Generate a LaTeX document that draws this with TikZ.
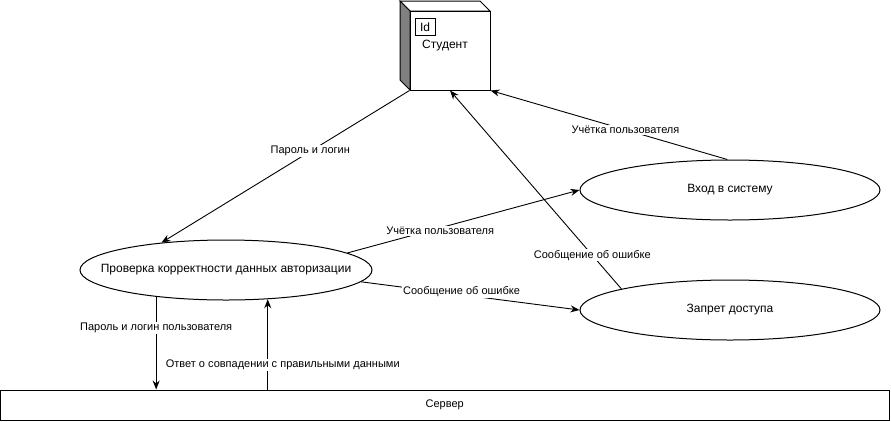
\documentclass[tikz,border=0pt]{standalone}
\usepackage{fontspec}
\setmainfont{Liberation Sans}
\usetikzlibrary{shapes.geometric,arrows.meta}
\begin{document}
\begin{tikzpicture}[x=1pt,y=-1pt,
  proc/.style={ellipse,draw,line width=1pt,minimum height=60pt,inner sep=0pt},
  flow/.style={line width=0.9pt,-{Stealth[length=9pt,width=7pt]}},
  lbl/.style={fill=white,inner sep=1pt,font=\fontsize{11}{13}\selectfont},
  boxtext/.style={font=\fontsize{12}{14}\selectfont}
]
\useasboundingbox (0,0) rectangle (891,421);

% actor cube: top face, shaded left side, front face
\draw[line width=1pt, fill=white] (400,1) -- (480,1) -- (490,11) -- (410,11) -- cycle;
\draw[line width=1pt, fill=gray] (400,1) -- (410,11) -- (410,90) -- (400,80) -- cycle;
\node[draw, line width=1pt, fill=white, minimum width=80pt, minimum height=79pt, inner sep=0pt] (st) at (450,50.5) {};
\node[draw, line width=1pt, minimum width=20pt, minimum height=17pt, inner sep=0pt, boxtext] (id) at (425,27) {Id};
\node[boxtext] (stl) at (445,46) {Студент};

% processes (text set as centred labels so the ellipse keeps its size)
\node[proc, minimum width=292pt, label={[boxtext]center:Проверка корректности данных авторизации}] (e1) at (226,270) {};
\node[proc, minimum width=300pt, label={[boxtext]center:Вход в систему}] (e2) at (730,190) {};
\node[proc, minimum width=300pt, label={[boxtext]center:Запрет доступа}] (e3) at (730,310) {};

% server store
\node[draw, line width=1pt, minimum width=888.5pt, minimum height=30pt, inner sep=0pt, font=\fontsize{11}{13}\selectfont] (sv) at (444.75,405) {Сервер};

% flows
\draw[flow] (st.south west) -- node[lbl,pos=0.4]{Пароль и логин} (e1.157);
\draw[flow] (e2.95) -- node[lbl,pos=0.43]{Учётка пользователя} (st.south east);
\draw[flow] (e3.169) -- node[lbl,pos=0.17]{Сообщение об ошибке} (st.south);
\draw[flow] (e1.8) -- node[lbl,pos=0.4,yshift=-3pt]{Учётка пользователя} (e2.west);
\draw[flow] (e1.-5) -- node[lbl,pos=0.46,yshift=3pt]{Сообщение об ошибке} (e3.west);
\draw[flow] (e1.201) -- node[lbl,pos=0.34]{Пароль и логин пользователя} (e1.201 |- sv.north);
\draw[flow] (e1.325 |- sv.north) -- node[lbl,pos=0.27,xshift=15pt]{Ответ о совпадении с правильными данными} (e1.325);
\end{tikzpicture}
\end{document}
